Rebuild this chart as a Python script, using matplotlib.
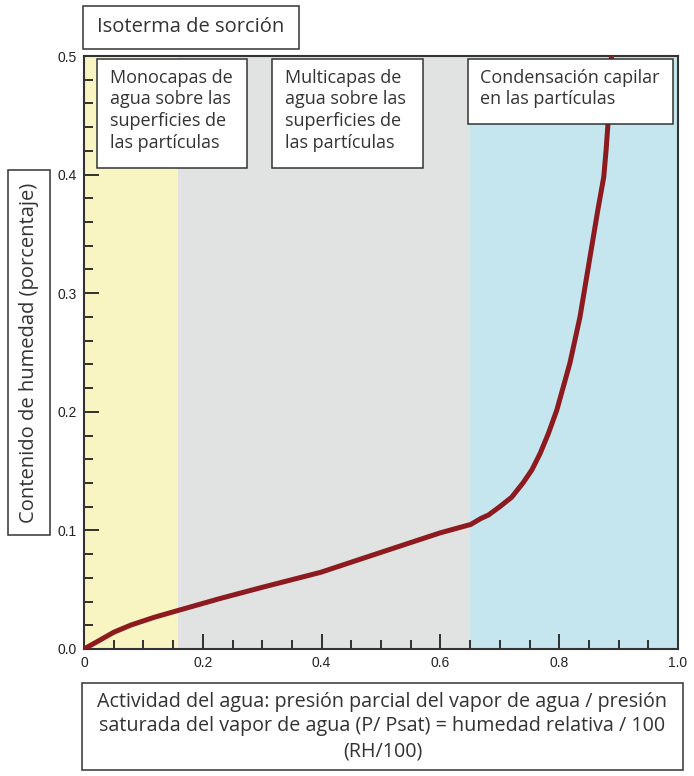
import matplotlib

matplotlib.use("Agg")
import matplotlib.pyplot as plt
from matplotlib.patches import Rectangle
from matplotlib.ticker import MultipleLocator, FixedLocator

# curva de sorción (actividad del agua, contenido de humedad)
aw = [0.0, 0.025, 0.05, 0.079, 0.118, 0.157, 0.23, 0.30, 0.398, 0.50, 0.60,
      0.651, 0.668, 0.681, 0.70, 0.72, 0.739, 0.754, 0.768, 0.782, 0.796,
      0.818, 0.835, 0.852, 0.865, 0.875, 0.879, 0.882, 0.888]
moisture = [0.0, 0.007, 0.0141, 0.0202, 0.0267, 0.0323, 0.0427, 0.052, 0.0646,
            0.0815, 0.098, 0.105, 0.110, 0.113, 0.120, 0.128, 0.140, 0.151,
            0.165, 0.182, 0.2015, 0.241, 0.280, 0.331, 0.370, 0.398, 0.421,
            0.442, 0.50]

# zonas
zone_edges = [0.0, 0.158, 0.65, 1.0]
zone_colors = ["#f8f5c2", "#e1e2e2", "#c5e6ee"]
zone_labels = [
    "Monocapas de\nagua sobre las\nsuperficies de\nlas partículas",
    "Multicapas de\nagua sobre las\nsuperficies de\nlas partículas",
    "Condensación capilar\nen las partículas",
]

x_ticks = [0, 0.2, 0.4, 0.6, 0.8, 1.0]
x_ticklabels = ["0", "0.2", "0.4", "0.6", "0.8", "1.0"]
y_ticks = [0.0, 0.1, 0.2, 0.3, 0.4, 0.5]
y_ticklabels = ["0.0", "0.1", "0.2", "0.3", "0.4", "0.5"]

title = "Isoterma de sorción"
ylabel = "Contenido de humedad (porcentaje)"
xlabel = ("Actividad del agua: presión parcial del vapor de agua / presión\n"
          "saturada del vapor de agua (P/ Psat) = humedad relativa / 100\n"
          "(RH/100)")

W, H = 694, 776
TXT = "#333333"
plt.rcParams["font.family"] = ["Open Sans", "DejaVu Sans"]

fig = plt.figure(figsize=(W / 100, H / 100), dpi=100)
ax = fig.add_axes([84 / W, 1 - 649 / H, (678 - 84) / W, (649 - 56) / H])

for (x0, x1), c in zip(zip(zone_edges[:-1], zone_edges[1:]), zone_colors):
    ax.axvspan(x0, x1, color=c, lw=0, zorder=0)

ax.plot(aw, moisture, color="#8c1a1f", lw=3.6, solid_capstyle="round",
        solid_joinstyle="round", zorder=3)

ax.set_xlim(0, 1)
ax.set_ylim(0, 0.5)
ax.xaxis.set_major_locator(FixedLocator(x_ticks))
ax.set_xticklabels(x_ticklabels)
ax.xaxis.set_minor_locator(MultipleLocator(0.05))
ax.yaxis.set_major_locator(FixedLocator(y_ticks))
ax.set_yticklabels(y_ticklabels)
ax.yaxis.set_minor_locator(MultipleLocator(0.02))
ax.tick_params(which="both", direction="in", color="#222222", width=1.3)
ax.tick_params(which="major", length=11, pad=5)
ax.tick_params(which="minor", length=6.5)
for lab in ax.get_xticklabels() + ax.get_yticklabels():
    lab.set_family(["Liberation Sans Narrow", "Liberation Sans"])
    lab.set_fontsize(10)
    lab.set_color("#222222")
for s in ax.spines.values():
    s.set_color("#333333")
    s.set_linewidth(1.5)


def box(x0, y0, x1, y1, text, size, ha="left", tx=None, rotation=0,
        ls=1.3):
    """recuadro blanco en coordenadas de píxel (origen arriba a la izquierda)."""
    fig.patches.append(Rectangle((x0 / W, 1 - y1 / H), (x1 - x0) / W,
                                 (y1 - y0) / H, transform=fig.transFigure,
                                 facecolor="white", edgecolor="#333333",
                                 lw=1.1, zorder=5))
    if rotation:
        fig.text((x0 + x1) / 2 / W, 1 - (y0 + y1) / 2 / H, text, rotation=90,
                 ha="center", va="center", fontsize=size, color=TXT, zorder=6)
    elif ha == "center":
        fig.text((x0 + x1) / 2 / W, 1 - (y0 + y1) / 2 / H, text, ha="center",
                 va="center", fontsize=size, color=TXT, linespacing=ls,
                 zorder=6)
    else:
        fig.text(tx / W, 1 - (y0 + 10) / H, text, ha="left", va="top",
                 fontsize=size, color=TXT, linespacing=ls, zorder=6)


box(83, 6, 299, 49, title, 14.5, ha="center")
box(97, 59, 247, 168, zone_labels[0], 13, tx=110, ls=1.25)
box(272, 59, 423, 168, zone_labels[1], 13, tx=285, ls=1.25)
box(468, 59, 673, 124, zone_labels[2], 13, tx=480, ls=1.25)
box(8, 170, 50, 535, ylabel, 14.5, rotation=90)
box(82, 683, 683, 770, xlabel, 14.2, ha="center", ls=1.3)

fig.savefig("out.png", dpi=100)
